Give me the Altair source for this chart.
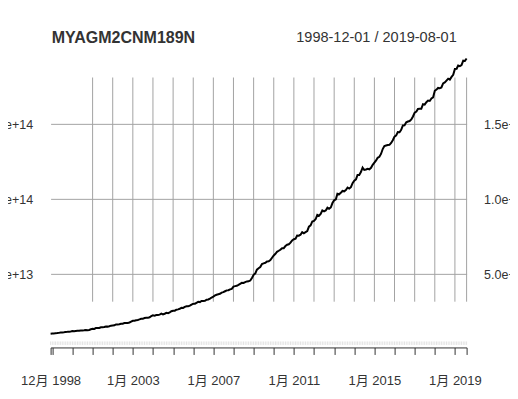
import altair as alt
import pandas as pd

# ---- data (China M2, trillion yuan, monthly Dec 1998 .. Aug 2019) ----
series_name = "MYAGM2CNM189N"
range_label = "1998-12-01 / 2019-08-01"

m2_1998 = [10.45]
m2_1999 = [10.58, 10.67, 10.86, 10.92, 11.03, 11.22, 11.32, 11.45, 11.69, 11.71, 11.81, 11.99]
m2_2000 = [12.22, 12.10, 12.26, 12.38, 12.39, 12.61, 12.59, 12.71, 12.91, 12.85, 13.00, 13.46]
m2_2001 = [13.76, 13.68, 14.25, 14.23, 14.31, 14.79, 14.73, 14.89, 15.27, 15.19, 15.45, 15.83]
m2_2002 = [15.94, 16.06, 16.66, 16.59, 16.73, 17.08, 17.11, 17.55, 17.60, 17.63, 17.95, 18.50]
m2_2003 = [19.05, 19.11, 19.44, 19.65, 19.99, 20.40, 20.40, 20.91, 21.06, 21.03, 21.38, 22.12]
m2_2004 = [22.70, 22.51, 22.89, 22.91, 23.19, 23.80, 23.27, 23.77, 24.35, 24.17, 24.70, 25.41]
m2_2005 = [25.78, 25.79, 26.43, 26.67, 27.04, 27.67, 27.64, 28.31, 28.74, 28.70, 29.17, 29.88]
m2_2006 = [30.36, 30.45, 31.05, 31.65, 31.51, 32.26, 32.20, 32.35, 33.12, 33.23, 33.78, 34.56]
m2_2007 = [35.18, 35.94, 36.41, 36.76, 37.00, 37.78, 38.14, 38.73, 39.31, 39.42, 39.95, 40.34]
m2_2008 = [41.78, 42.13, 42.31, 42.95, 43.64, 44.31, 44.26, 44.85, 45.29, 45.30, 45.84, 47.52]
m2_2009 = [49.61, 50.65, 53.06, 54.05, 54.80, 56.89, 57.30, 57.64, 58.54, 58.64, 59.42, 61.02]
m2_2010 = [62.56, 63.60, 64.99, 65.66, 66.35, 67.39, 67.40, 68.79, 69.65, 69.96, 71.03, 72.58]
m2_2011 = [73.33, 73.73, 75.81, 75.73, 76.34, 78.08, 77.29, 78.07, 78.74, 81.68, 82.55, 85.16]
m2_2012 = [85.55, 86.77, 89.56, 88.96, 90.09, 92.50, 91.92, 92.49, 94.37, 93.64, 94.46, 97.41]
m2_2013 = [99.21, 99.86, 103.61, 103.25, 104.21, 105.45, 105.22, 106.12, 107.74, 107.02, 107.93, 110.65]
m2_2014 = [112.35, 113.18, 116.07, 116.02, 118.00, 120.96, 119.41, 119.71, 120.21, 119.87, 120.86, 122.84]
m2_2015 = [124.27, 125.74, 127.53, 128.15, 130.07, 133.34, 135.32, 135.70, 135.98, 136.10, 137.40, 139.23]
m2_2016 = [141.63, 142.46, 144.62, 144.52, 146.17, 149.05, 149.16, 151.10, 151.64, 151.95, 153.04, 155.01]
m2_2017 = [157.59, 158.29, 159.96, 160.14, 160.14, 163.13, 162.90, 164.52, 165.57, 165.34, 167.00, 167.68]
m2_2018 = [172.08, 172.91, 173.99, 173.77, 174.31, 177.02, 177.62, 178.87, 180.17, 179.56, 181.32, 182.67]
m2_2019 = [186.59, 186.74, 188.94, 188.47, 189.13, 192.14, 191.94, 193.55]

m2_trillion = (m2_1998 + m2_1999 + m2_2000 + m2_2001 + m2_2002 + m2_2003 + m2_2004
               + m2_2005 + m2_2006 + m2_2007 + m2_2008 + m2_2009 + m2_2010 + m2_2011
               + m2_2012 + m2_2013 + m2_2014 + m2_2015 + m2_2016 + m2_2017 + m2_2018
               + m2_2019)
months = pd.date_range("1998-12-01", "2019-08-01", freq="MS").strftime("%Y-%m-%d").tolist()

y_ticks = [5e13, 1e14, 1.5e14]
tick_dates = [(1998, 12)] + [(y, 1) for y in range(1999, 2020)] + [(2019, 8)]
grid_dates = [f"{y}-01-01" for y in range(2001, 2020)] + ["2019-08-01"]
labelled = ["1998-12", "2003-01", "2007-01", "2011-01", "2015-01", "2019-01"]

df = pd.DataFrame({"date": months, "value": [v * 1e12 for v in m2_trillion]})
grid_df = pd.DataFrame({"date": grid_dates})

FONT = "Liberation Sans, Arial, Noto Sans CJK SC, sans-serif"
TXT = "#333333"
GRID = "#a3a3a3"

xscale = alt.Scale(type="utc",
                   domain=[alt.DateTime(year=1998, month=12, date=1, utc=True),
                           alt.DateTime(year=2019, month=8, date=1, utc=True)])
yscale = alt.Scale(domain=[0, 2e14], nice=False, zero=True)

lab_list = "[" + ",".join(f"'{s}'" for s in labelled) + "]"
x_axis = alt.Axis(
    values=[alt.DateTime(year=y, month=m, date=1, utc=True) for y, m in tick_dates],
    labelExpr=f"indexof({lab_list}, utcFormat(datum.value, '%Y-%m')) >= 0 ? utcFormat(datum.value, '%-m月 %Y') : ''",
    grid=False, domainColor=TXT, domainWidth=1, tickColor=TXT, tickWidth=1,
    tickSize=7, labelFontSize=13, labelPadding=20, labelColor=TXT, labelFont=FONT,
    labelOverlap=False, labelFlush=False, offset=-2, title=None,
)
left_axis = alt.Axis(orient="left", values=y_ticks, format=".1e", ticks=False, tickSize=0,
                     domain=False, grid=True, gridColor=GRID, gridWidth=1,
                     labelFontSize=12.5, labelColor=TXT, labelFont=FONT, labelPadding=18,
                     title=None)
right_axis = alt.Axis(orient="right", values=y_ticks, format=".1e", ticks=False, tickSize=0,
                      domain=False, grid=False,
                      labelFontSize=12.5, labelColor=TXT, labelFont=FONT, labelPadding=17,
                      labelAlign="left", title=None)

xenc = alt.X("date:T", scale=xscale, axis=x_axis)

vgrid = alt.Chart(grid_df).mark_rule(color=GRID, strokeWidth=1).encode(
    x=xenc, y=alt.value(28.65), y2=alt.value(252.85),
)
minor = alt.Chart(df).mark_rule(color="#e4e4e4", strokeWidth=1).encode(
    x=xenc, y=alt.value(292.6), y2=alt.value(296.1),
)
line = alt.Chart(df).mark_line(color="black", strokeWidth=2).encode(
    x=xenc, y=alt.Y("value:Q", scale=yscale, axis=left_axis),
)
right = alt.Chart(df).mark_line(opacity=0).encode(
    x=xenc, y=alt.Y("value:Q", scale=yscale, axis=right_axis),
)
title_txt = alt.Chart(pd.DataFrame({"t": [series_name]})).mark_text(
    align="left", baseline="alphabetic", font=FONT, fontSize=16, fontWeight="bold", color=TXT
).encode(text="t:N", x=alt.value(1.1), y=alt.value(-6.2))
range_txt = alt.Chart(pd.DataFrame({"t": [range_label]})).mark_text(
    align="right", baseline="alphabetic", font=FONT, fontSize=14.5, color=TXT
).encode(text="t:N", x=alt.value(406.1), y=alt.value(-6.8))

chart = alt.layer(vgrid, minor, line, right, title_txt, range_txt).resolve_axis(
    y="independent"
).properties(
    width=416, height=300.6,
    background="white",
    autosize=alt.AutoSizeParams(type="none"),
    padding={"left": 42.6, "top": 40.85, "right": 43.4, "bottom": 41.55},
).configure_view(stroke=None)

chart.save("out.html", embed_options={"renderer": "svg", "actions": False})
